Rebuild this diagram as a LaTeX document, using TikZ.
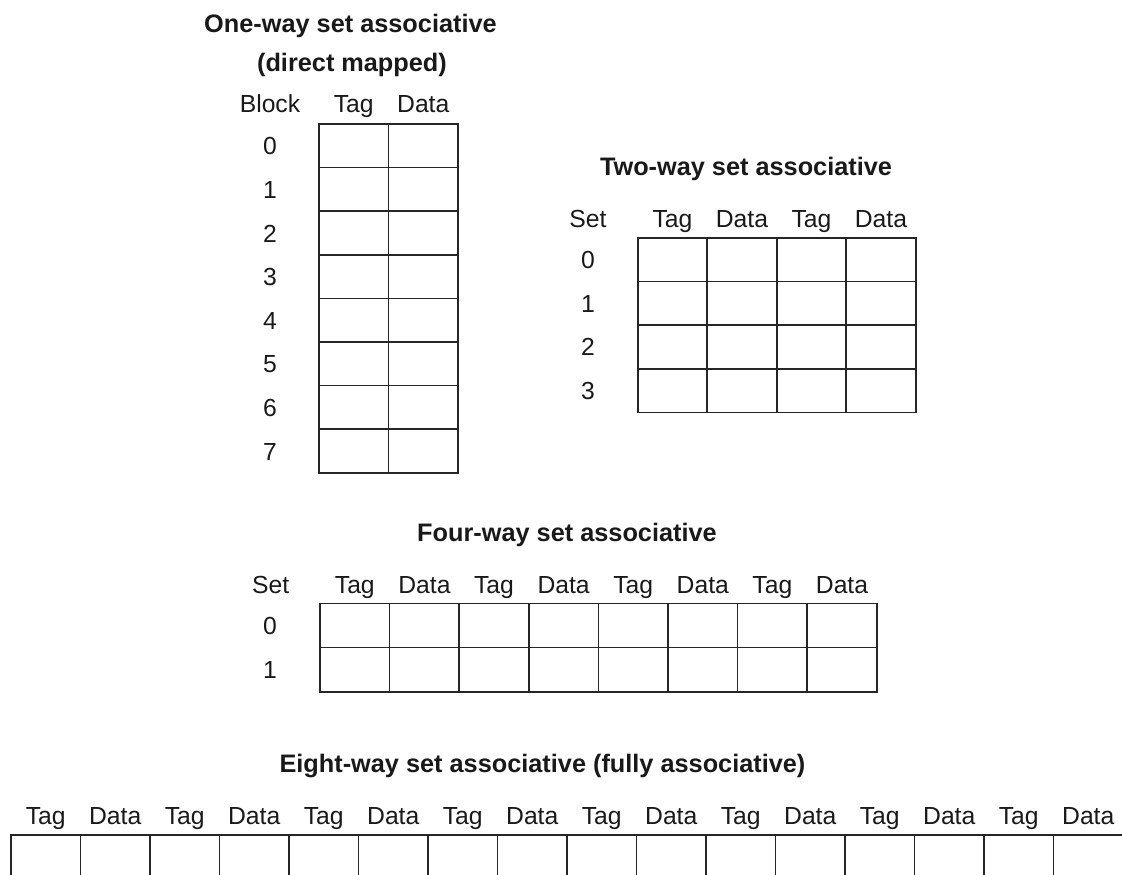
\documentclass[tikz,border=0pt]{standalone}
\usepackage{fontspec}
\setmainfont{Liberation Sans}
\begin{document}
\begin{tikzpicture}[x=1pt,y=-1pt,
  cell/.style={draw=black!85, line width=1.6pt, rectangle, inner sep=0pt},
  lbl/.style={anchor=base, inner sep=0pt, font=\fontsize{24.7}{28}\selectfont, text=black!90},
  ttl/.style={anchor=base, inner sep=0pt, font=\fontsize{25.3}{29}\selectfont\bfseries, text=black!90}]
\useasboundingbox (0,0) rectangle (1122,875);

% ---------- One-way ----------
\node[ttl] (t1a) at (350.5,33) {One-way set associative};
\node[ttl] (t1b) at (352,71) {(direct mapped)};
\node[lbl] (h1block) at (270,112) {Block};
\node[lbl] (h1tag) at (353.75,112) {Tag};
\node[lbl] (h1data) at (423.25,112) {Data};
\begin{scope}[every node/.append style={minimum width=69.5pt, minimum height=43.6pt}]
\foreach \r in {0,...,7} {
  \node[lbl, minimum width=0pt, minimum height=0pt] (r1n\r) at (270,{124+43.6*(\r+0.5)+9}) {\r};
  \foreach \c in {0,1}
    \node[cell] (c1-\r-\c) at ({319+69.5*(\c+0.5)},{124+43.6*(\r+0.5)}) {};
}
\end{scope}

% ---------- Two-way ----------
\node[ttl] (t2) at (746,175) {Two-way set associative};
\node[lbl] (h2set) at (588,227) {Set};
\foreach \c/\t in {0/Tag,1/Data,2/Tag,3/Data}
  \node[lbl] (h2-\c) at ({637.7+69.5*(\c+0.5)},227) {\t};
\begin{scope}[every node/.append style={minimum width=69.5pt, minimum height=43.7pt}]
\foreach \r in {0,...,3} {
  \node[lbl, minimum width=0pt, minimum height=0pt] (r2n\r) at (588,{237.7+43.7*(\r+0.5)+9}) {\r};
  \foreach \c in {0,...,3}
    \node[cell] (c2-\r-\c) at ({637.7+69.5*(\c+0.5)},{237.7+43.7*(\r+0.5)}) {};
}
\end{scope}

% ---------- Four-way ----------
\node[ttl] (t4) at (567,541) {Four-way set associative};
\node[lbl] (h4set) at (270.7,593) {Set};
\foreach \c/\t in {0/Tag,1/Data,2/Tag,3/Data,4/Tag,5/Data,6/Tag,7/Data}
  \node[lbl] (h4-\c) at ({320+69.6*(\c+0.5)},593) {\t};
\begin{scope}[every node/.append style={minimum width=69.6pt, minimum height=44.2pt}]
\foreach \r in {0,1} {
  \node[lbl, minimum width=0pt, minimum height=0pt] (r4n\r) at (270,{603.3+44.2*(\r+0.5)+9}) {\r};
  \foreach \c in {0,...,7}
    \node[cell] (c4-\r-\c) at ({320+69.6*(\c+0.5)},{603.3+44.2*(\r+0.5)}) {};
}
\end{scope}

% ---------- Eight-way ----------
\node[ttl] (t8) at (542.5,772) {Eight-way set associative (fully associative)};
\foreach \c/\t in {0/Tag,1/Data,2/Tag,3/Data,4/Tag,5/Data,6/Tag,7/Data,8/Tag,9/Data,10/Tag,11/Data,12/Tag,13/Data,14/Tag,15/Data}
  \node[lbl] (h8-\c) at ({11+69.5*(\c+0.5)},824) {\t};
\begin{scope}[every node/.append style={minimum width=69.5pt, minimum height=44pt}]
\foreach \c in {0,...,15}
  \node[cell] (c8-\c) at ({11+69.5*(\c+0.5)},{835+22}) {};
\end{scope}
\end{tikzpicture}
\end{document}
